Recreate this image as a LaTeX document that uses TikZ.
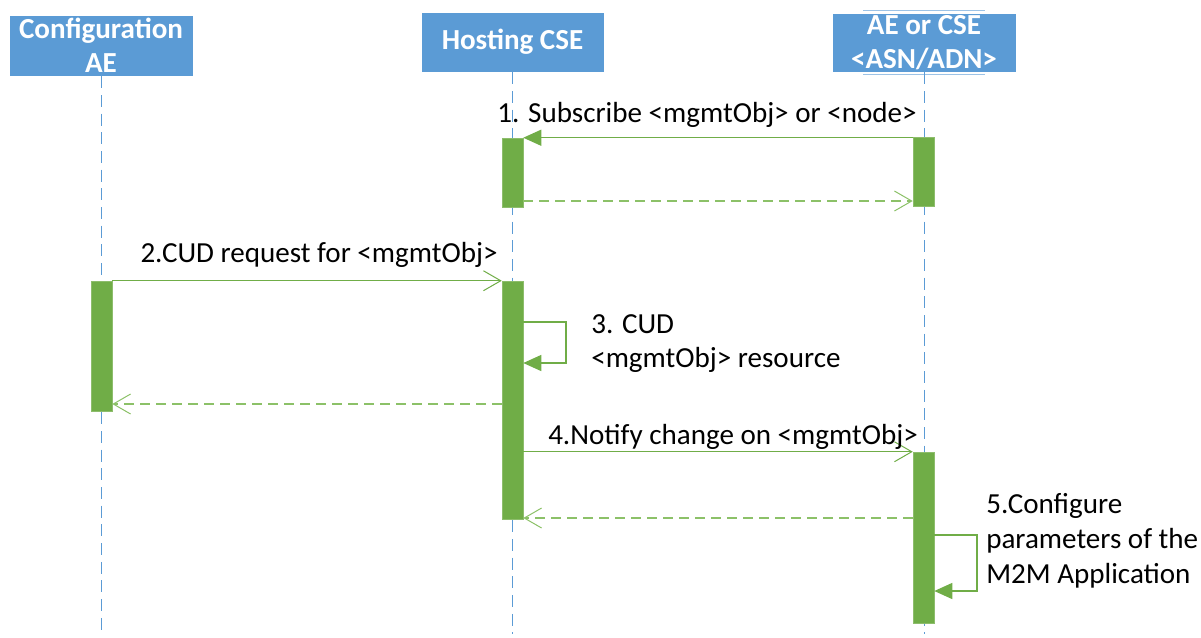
\documentclass[tikz,border=0pt]{standalone}
\usepackage{fontspec}
\setmainfont{Carlito}
\usetikzlibrary{arrows.meta,calc}
\definecolor{hdrblue}{HTML}{5B9BD5}
\definecolor{hdrline}{HTML}{9DC3E6}
\definecolor{bargreen}{HTML}{70AD47}
\definecolor{msggreen}{HTML}{70AD47}
\definecolor{retgreen}{HTML}{8CC168}
\tikzset{
  hdr/.style={fill=hdrblue, draw=white, line width=0.6pt, text=white, align=center,
    font=\fontsize{21.8}{25.8}\selectfont\bfseries, inner sep=0pt},
  life/.style={draw=hdrblue, line width=0.75pt, dash pattern=on 9pt off 5pt},
  actbar/.style={fill=bargreen, draw=bargreen!80!white, line width=0.4pt, minimum width=15.75pt, inner sep=0pt},
  msg/.style={draw=msggreen, line width=1pt},
  ret/.style={draw=retgreen, line width=1pt, dash pattern=on 7.5pt off 4.5pt},
  openhead/.style={-{Straight Barb[length=13pt,width=15pt,line width=0.75pt]}},
  fillhead/.style={-{Triangle[length=13.5pt,width=12pt]}},
  lbl/.style={font=\fontsize{21.8}{26}\selectfont, inner sep=0pt, text=black},
}
\begin{document}
\begin{tikzpicture}[x=0.75pt,y=-0.75pt]
\useasboundingbox (0,0) rectangle (1201,637);
% headers
\node[hdr, minimum width=138pt, minimum height=45.75pt] (cfg) at (101,45.5) {Configuration\\AE};
\node[hdr, minimum width=137.25pt, minimum height=45pt] (host) at (512.5,42) {Hosting CSE};
\node[hdr, minimum width=138pt, minimum height=44.25pt] (ae) at (924,42.5) {AE or CSE\\<ASN/ADN>};
\draw[hdrline, line width=0.75pt] (863,10) -- (985,10);
\draw[hdrline, line width=0.75pt] (863,74.5) -- (985,74.5);
% lifelines
\coordinate (cfgEnd) at (101,634);
\coordinate (hostEnd) at (512.5,634);
\coordinate (aeEnd) at (924,634);
\draw[life] (cfg.south) -- (cfgEnd);
\draw[life] (host.south) -- (hostEnd);
\draw[life] (ae.south) -- (aeEnd);
% activation bars
\node[actbar, minimum height=51.75pt] (hb1) at (512.5,172.5) {};
\node[actbar, minimum height=51.75pt] (ab1) at (923.5,171.5) {};
\node[actbar, minimum height=97.5pt] (cb1) at (101.5,346) {};
\node[actbar, minimum height=178.5pt] (hb2) at (512.5,400) {};
\node[actbar, minimum height=128.25pt] (ab2) at (923.5,537.5) {};
% message 1
\draw[msg, fillhead] ([yshift=-0.75pt]ab1.north west) -- ([yshift=-0.75pt]ab1.north west -| hb1.east);
\node[lbl, anchor=base] (l1) at (707,122) {1. Subscribe <mgmtObj> or <node>};
\draw[ret, openhead] (hb1.east |- 0,201) -- (ab1.west |- 0,201);
% message 2
\draw[msg, openhead] (cb1.north east) -- (cb1.north east -| hb2.west);
\node[lbl, anchor=base] (l2) at (319,262) {2.CUD request for <mgmtObj>};
\draw[ret, openhead] (hb2.west |- 0,404) -- (cb1.east |- 0,404);
% message 3 (self)
\coordinate (s3a) at (566,322);
\coordinate (s3b) at (566,363);
\draw[msg, fillhead] (hb2.east |- s3a) -- (s3a) -- (s3b) -- (hb2.east |- s3b);
\node[lbl, anchor=base west] (l3a) at (591,333) {3. CUD};
\node[lbl, anchor=base west] (l3b) at (591,367) {<mgmtObj> resource};
% message 4
\draw[msg, openhead] (hb2.east |- ab2.north) -- (ab2.north west);
\node[lbl, anchor=base] (l4) at (733,444) {4.Notify change on <mgmtObj>};
\draw[ret, openhead] (ab2.west |- 0,518) -- (hb2.east |- 0,518);
% message 5 (self)
\coordinate (s5a) at (977,535);
\coordinate (s5b) at (977,591);
\draw[msg, fillhead] (ab2.east |- s5a) -- (s5a) -- (s5b) -- (ab2.east |- s5b);
\node[lbl, anchor=base west] (l5a) at (986,513) {5.Configure};
\node[lbl, anchor=base west] (l5b) at (986,548) {parameters of the};
\node[lbl, anchor=base west] (l5c) at (986,583) {M2M Application};
\end{tikzpicture}
\end{document}
